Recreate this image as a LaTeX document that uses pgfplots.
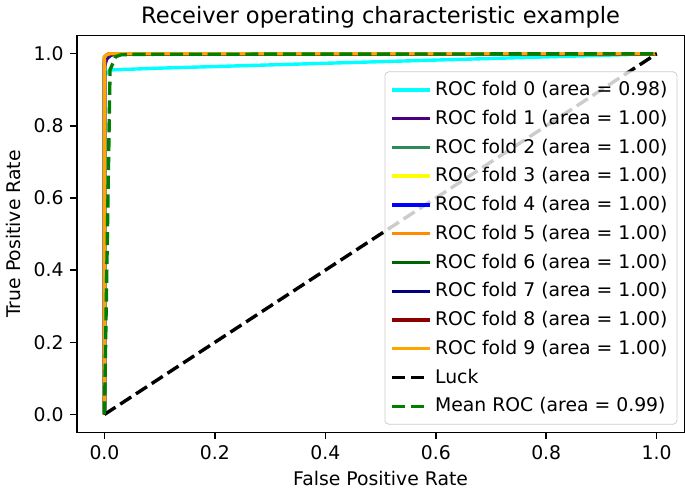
\documentclass[border=0pt]{standalone}
\usepackage{pgfplots}
\pgfplotsset{compat=1.18}
\usepackage{fontspec}
\setmainfont{DejaVu Sans}
\definecolor{mplindigo}{HTML}{4B0082}
\definecolor{mplseagreen}{HTML}{2E8B57}
\definecolor{mplyellow}{HTML}{FFFF00}
\definecolor{mplblue}{HTML}{0000FF}
\definecolor{mpldarkorange}{HTML}{FF8C00}
\definecolor{mpldarkgreen}{HTML}{006400}
\definecolor{mplnavy}{HTML}{000080}
\definecolor{mpldarkred}{HTML}{8B0000}
\definecolor{mplorange}{HTML}{FFA500}
\definecolor{mplcyan}{HTML}{00FFFF}
\definecolor{mplgreen}{HTML}{008000}
\begin{document}
\begin{tikzpicture}
\begin{axis}[
  scale only axis,
  width=323pt, height=211pt,
  xmin=-0.05, xmax=1.05, ymin=-0.05, ymax=1.05,
  xtick={0,0.2,0.4,0.6,0.8,1.0},
  ytick={0,0.2,0.4,0.6,0.8,1.0},
  tick align=outside, tick pos=left,
  major tick length=3.5pt,
  axis line style={line width=0.8pt},
  every tick/.style={black, line width=0.8pt},
  /pgf/number format/assume math mode=true,
  /pgf/number format/.cd, fixed, fixed zerofill, precision=1, /pgfplots/.cd,
  tick label style={font=\fontsize{10}{12}\selectfont},
  xlabel={False Positive Rate}, ylabel={True Positive Rate},
  label style={font=\fontsize{10}{12}\selectfont},
  xlabel style={yshift=1pt},
  title={Receiver operating characteristic example},
  title style={font=\fontsize{12}{14}\selectfont, yshift=-5.5pt},
  legend cell align=left,
  legend style={at={(rel axis cs:1,0)}, anchor=south east, xshift=-3.7pt, yshift=4.2pt,
    font=\fontsize{10}{12}\selectfont, draw=black!20, rounded corners=2pt,
    fill=white, fill opacity=0.8, text opacity=1, row sep=2.2pt,
    inner xsep=3pt, inner ysep=3pt},
  legend image code/.code={\draw[mark repeat=2,mark phase=2,#1] plot coordinates {(0cm,0cm) (0.35cm,0cm) (0.7cm,0cm)};},
]
\addplot[mplcyan, line width=1.8pt] coordinates {(0,0) (0,0.94) (0.01,0.955) (0.1,0.96) (0.5,0.978) (1,1)};
\addlegendentry{ROC fold 0 (area = 0.98)}
\addplot[mplindigo, line width=1.8pt] coordinates {(0,0) (0,0.965) (0.004,0.985) (0.012,0.997) (0.03,1) (1,1)};
\addlegendentry{ROC fold 1 (area = 1.00)}
\addplot[mplseagreen, line width=1.8pt] coordinates {(0,0) (0,0.98) (0.005,0.995) (0.02,1) (1,1)};
\addlegendentry{ROC fold 2 (area = 1.00)}
\addplot[mplyellow, line width=1.8pt] coordinates {(0,0) (0,0.985) (0.006,0.997) (0.02,1) (1,1)};
\addlegendentry{ROC fold 3 (area = 1.00)}
\addplot[mplblue, line width=1.8pt] coordinates {(0,0) (0,0.975) (0.005,0.993) (0.02,1) (1,1)};
\addlegendentry{ROC fold 4 (area = 1.00)}
\addplot[mpldarkorange, line width=1.8pt] coordinates {(0,0) (0,0.985) (0.005,0.996) (0.015,1) (1,1)};
\addlegendentry{ROC fold 5 (area = 1.00)}
\addplot[mpldarkgreen, line width=1.8pt] coordinates {(0,0) (0,0.99) (0.005,0.997) (0.015,1) (1,1)};
\addlegendentry{ROC fold 6 (area = 1.00)}
\addplot[mplnavy, line width=1.8pt] coordinates {(0,0) (0,0.985) (0.005,0.996) (0.015,1) (1,1)};
\addlegendentry{ROC fold 7 (area = 1.00)}
\addplot[mpldarkred, line width=1.8pt] coordinates {(0,0) (0,0.99) (0.005,0.998) (0.012,1) (1,1)};
\addlegendentry{ROC fold 8 (area = 1.00)}
\addplot[mplorange, line width=1.8pt] coordinates {(0,0) (0,0.99) (0.004,0.997) (0.01,1) (1,1)};
\addlegendentry{ROC fold 9 (area = 1.00)}
\addplot[black, line width=1.8pt, dash pattern=on 7pt off 3pt] coordinates {(0,0) (1,1)};
\addlegendentry{Luck}
\addplot[mplgreen, line width=1.8pt, dash pattern=on 7pt off 3pt] coordinates {(0,0) (0.0101,0.955) (0.0202,0.992) (0.0303,0.997) (0.0505,0.998) (0.1,0.9985) (0.5,0.999) (1,1)};
\addlegendentry{Mean ROC (area = 0.99)}
\end{axis}
\end{tikzpicture}
\end{document}
